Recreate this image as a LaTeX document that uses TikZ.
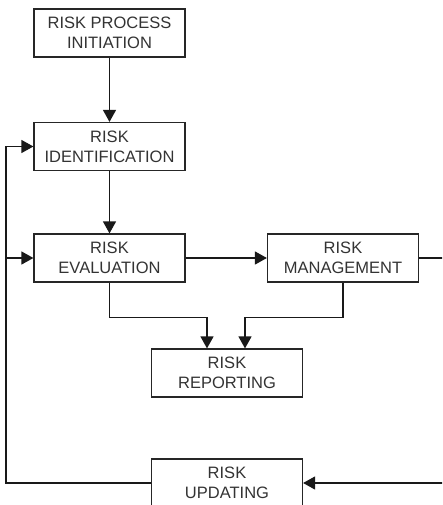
\documentclass[tikz,border=0pt]{standalone}
\usepackage{fontspec}
\setmainfont{Liberation Sans}
\usetikzlibrary{arrows.meta}
\begin{document}
\begin{tikzpicture}[x=1pt,y=-1pt,
  box/.style={draw=black!85,line width=1.2pt,minimum width=151pt,minimum height=48pt,inner sep=0pt,align=center,text=black!80,font=\fontsize{16.5}{20}\selectfont},
  conn/.style={draw=black!90,line width=1.3pt},
  arr/.style={conn,-{Triangle[length=12pt,width=13pt]}}]
\useasboundingbox (0,0) rectangle (442,505);
\clip (0,0) rectangle (442,505);
\node[box] (init) at (109.5,33) {RISK PROCESS\\INITIATION};
\node[box] (ident) at (109.5,146.5) {RISK\\IDENTIFICATION};
\node[box] (eval) at (109.5,258) {RISK\\EVALUATION};
\node[box] (mgmt) at (343,258) {RISK\\MANAGEMENT};
\node[box] (rep) at (227,373) {RISK\\REPORTING};
\node[box] (upd) at (227,483) {RISK\\UPDATING};
\coordinate (le) at (6,483);
\coordinate (re) at (446,258);
\draw[arr] (init.south) -- (ident.north);
\draw[arr] (ident.south) -- (eval.north);
\draw[arr] (eval.east) -- (mgmt.west);
\draw[arr] (eval.south) -- ++(0,35) -| ([xshift=-20pt]rep.north);
\draw[arr] (mgmt.south) -- ++(0,35) -| ([xshift=18pt]rep.north);
\draw[arr] (mgmt.east) -- (re) |- (upd.east);
\draw[arr] (upd.west) -- (le) |- (ident.west);
\draw[arr] (le |- eval.west) -- (eval.west);
\end{tikzpicture}
\end{document}
